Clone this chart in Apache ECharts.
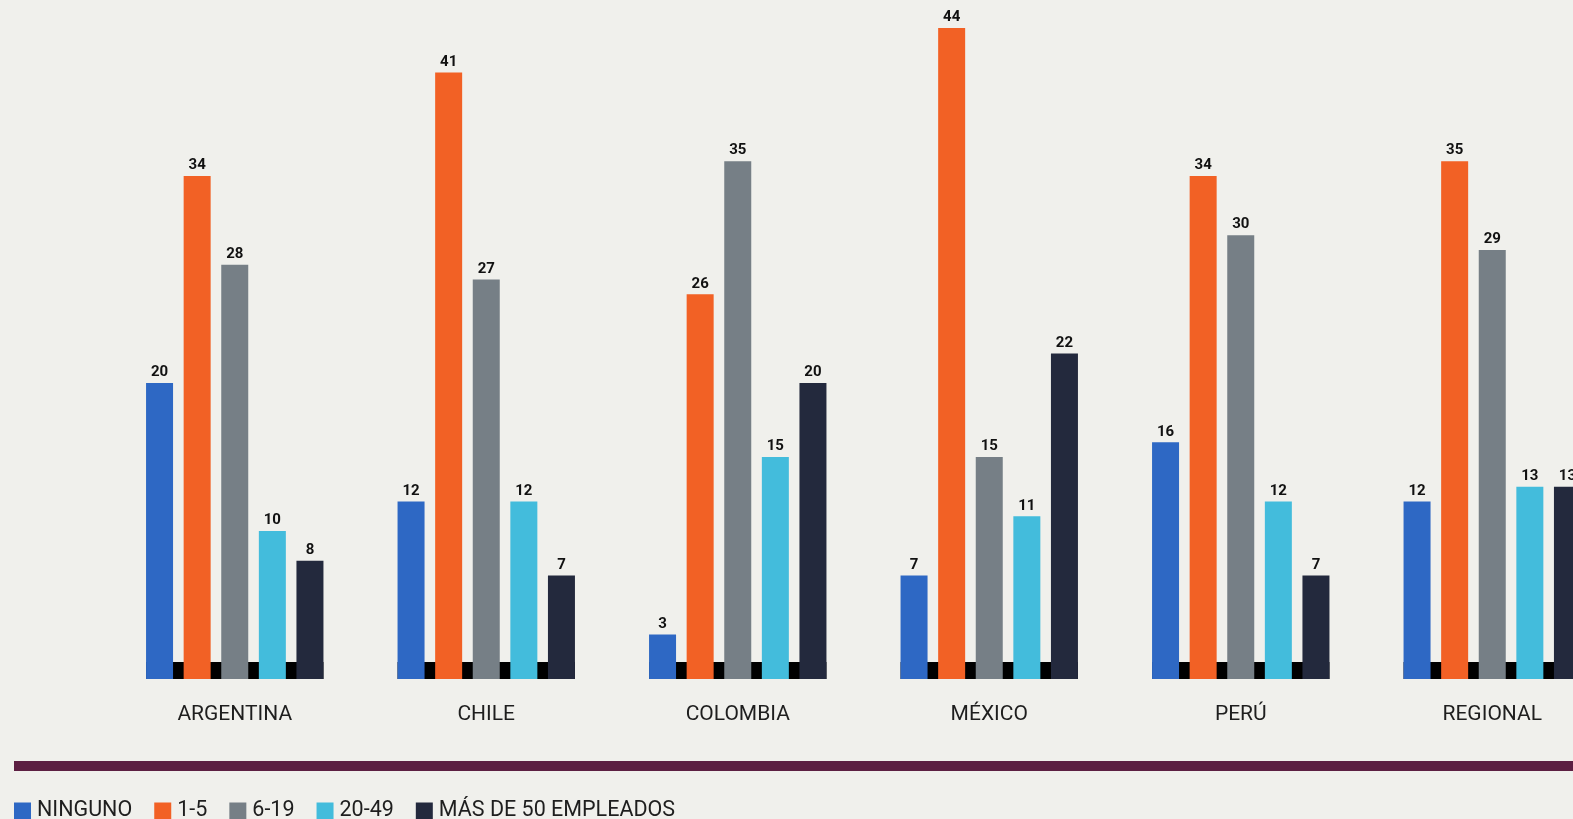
<!DOCTYPE html>
<html>
<head>
<meta charset="utf-8">
<script src="https://cdn.jsdelivr.net/npm/echarts@6/dist/echarts.min.js"></script>
<style>
  html, body { margin: 0; padding: 0; background: #f0f0ec; }
  #chart { width: 1573px; height: 819px; }
</style>
</head>
<body>
<div id="chart"></div>
<script>
  var paises = ['ARGENTINA', 'CHILE', 'COLOMBIA', 'MÉXICO', 'PERÚ', 'REGIONAL'];
  var ninguno = [20, 12, 3, 7, 16, 12];
  var de1a5 = [34, 41, 26, 44, 34, 35];
  var de6a19 = [28, 27, 35, 15, 30, 29];
  var de20a49 = [10, 12, 15, 11, 12, 13];
  var mas50 = [8, 7, 20, 22, 7, 13];

  var barW = 27;
  var gapPx = 10.6;
  var groupW = barW * 5 + gapPx * 4;

  var myEchart = echarts.init(document.getElementById('chart'));

  function barSerie(name, data, color) {
    return {
      name: name,
      type: 'bar',
      data: data,
      barWidth: barW,
      barGap: (gapPx / barW * 100) + '%',
      z: 3,
      itemStyle: { color: color },
      label: {
        show: true,
        position: 'top',
        distance: 3,
        color: '#111',
        fontFamily: 'Roboto',
        fontWeight: 'bold',
        fontSize: 15
      }
    };
  }

  var option = {
    backgroundColor: '#f0f0ec',
    animation: false,
    grid: {
      left: 109,
      width: 1509,
      top: 28,
      bottom: 140,
      outerBoundsMode: 'none'
    },
    legend: {
      left: 14,
      top: 800,
      padding: 0,
      icon: 'rect',
      itemWidth: 17,
      itemHeight: 17,
      itemGap: 22,
      textStyle: {
        color: '#1e1e1e',
        fontFamily: 'Roboto',
        fontSize: 21.5,
        padding: [0, 0, 0, 1]
      },
      data: ['NINGUNO', '1-5', '6-19', '20-49', 'MÁS DE 50 EMPLEADOS']
    },
    xAxis: {
      type: 'category',
      data: paises,
      axisLine: { show: false },
      axisTick: { show: false },
      axisLabel: {
        margin: 25,
        color: '#1e1e1e',
        fontFamily: 'Roboto',
        fontSize: 21
      }
    },
    yAxis: {
      type: 'value',
      min: 0,
      max: 44,
      show: false
    },
    graphic: [{
      type: 'rect',
      shape: { x: 14, y: 761, width: 1580, height: 10 },
      style: { fill: '#5c1f42' }
    }],
    series: [
      {
        // franja negra de base detrás de cada grupo
        type: 'custom',
        z: 1,
        silent: true,
        data: paises.map(function (p, i) { return [i, 0]; }),
        renderItem: function (params, api) {
          var pt = api.coord([api.value(0), 0]);
          return {
            type: 'rect',
            shape: { x: pt[0] - groupW / 2, y: pt[1] - 17, width: groupW, height: 17 },
            style: { fill: '#000' }
          };
        }
      },
      barSerie('NINGUNO', ninguno, '#2e68c4'),
      barSerie('1-5', de1a5, '#f26125'),
      barSerie('6-19', de6a19, '#767f86'),
      barSerie('20-49', de20a49, '#43bcdc'),
      barSerie('MÁS DE 50 EMPLEADOS', mas50, '#23293d')
    ]
  };

  myEchart.setOption(option);
</script>
</body>
</html>
